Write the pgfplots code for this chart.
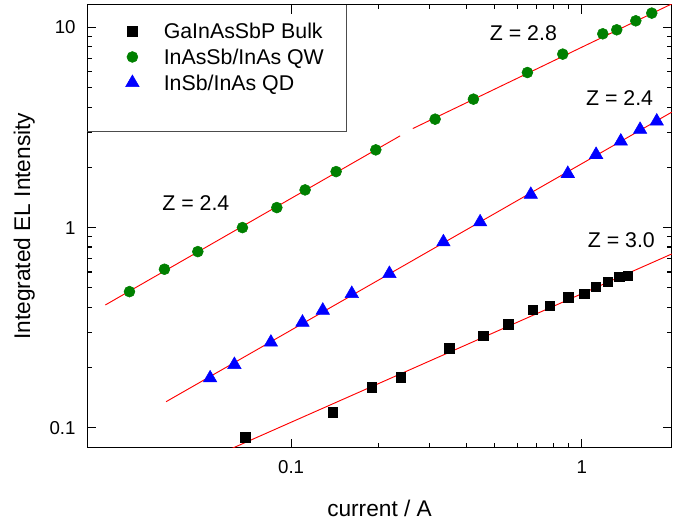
\documentclass[border=0pt]{standalone}
\usepackage{fontspec}
\setmainfont{Liberation Sans}
\usepackage{pgfplots}
\pgfplotsset{compat=1.18}
\definecolor{qwgreen}{RGB}{0,128,0}

\begin{document}
\begin{tikzpicture}
\path[use as bounding box] (-65.475pt,-54.975pt) rectangle (442.95pt,335.775pt);
\begin{axis}[
  at={(0,0)}, anchor=south west,
  scale only axis, width=438.3pt, height=332.25pt,
  xmode=log, ymode=log,
  xmin=0.0199, xmax=2.04, ymin=0.0794, ymax=13.0,
  xtick={0.1,1}, ytick={0.1,1,10},
  log ticks with fixed point,
  tick align=inside,
  major tick length=6.75pt, minor tick length=3.5pt,
  axis line style={line width=1pt},
  tick style={black, line width=0.9pt},
  tick label style={font=\fontsize{14}{16}\selectfont},
  /pgf/number format/assume math mode=true,
  xticklabel shift=6pt, yticklabel shift=5.3pt,
  xlabel={current / A},
  ylabel={Integrated EL Intensity},
  label style={font=\fontsize{17}{20}\selectfont},
  xlabel style={at={(axis description cs:0.5,-0.136)}, anchor=center},
  ylabel style={at={(axis description cs:-0.108,0.5)}, anchor=center},
  legend cell align=left,
  legend image code/.code={\draw[#1] plot coordinates {(0pt,0pt)};},
  legend style={draw=none, fill=none,
    at={(axis description cs:0,1)}, anchor=north west,
    inner xsep=28.6pt, inner ysep=11.4pt, row sep=2.7pt,
    font=\fontsize{16}{19}\selectfont,
    nodes={inner xsep=0pt, inner ysep=0pt, text height=14pt, text depth=2.6pt},
    /tikz/every odd column/.append style={column sep=18.5pt}},
]
% measured points
\addplot[only marks, mark=square*, mark size=3.5pt, black] coordinates {
  (0.0695,0.0895) (0.1391,0.1194) (0.1895,0.1592) (0.2389,0.1786)
  (0.3496,0.2495) (0.4587,0.2873) (0.5590,0.3289) (0.6784,0.3878)
  (0.778,0.4074) (0.8994,0.4487) (1.021,0.4662) (1.120,0.5070)
  (1.229,0.5355) (1.347,0.5689) (1.436,0.5754)};
\addlegendentry{GaInAsSbP Bulk}
\addplot[only marks, mark=*, mark size=4.1pt, qwgreen] coordinates {
  (0.02779,0.4786) (0.03666,0.6194) (0.04775,0.7586) (0.0680,1.0)
  (0.0893,1.259) (0.1117,1.543) (0.1428,1.905) (0.1956,2.446)
  (0.3129,3.483) (0.4238,4.385) (0.650,5.957) (0.860,7.362)
  (1.181,9.301) (1.319,9.739) (1.534,10.80) (1.741,11.80)};
\addlegendentry{InAsSb/InAs QW}
\addplot[only marks, mark=triangle*, mark size=5.8pt, blue] coordinates {
  (0.05264,0.1770) (0.0638,0.2065) (0.0852,0.2670) (0.1094,0.3360)
  (0.1285,0.3858) (0.1617,0.4675) (0.2178,0.5886) (0.3342,0.847)
  (0.4469,1.066) (0.6678,1.462) (0.8951,1.861) (1.120,2.316)
  (1.362,2.700) (1.587,3.090) (1.811,3.400)};
\addlegendentry{InSb/InAs QD}
% fits
\addplot[forget plot, no marks, red, line width=0.7pt] coordinates {(0.02297,0.4108) (0.2371,2.874)};
\addplot[forget plot, no marks, red, line width=0.7pt] coordinates {(0.2622,3.126) (2.04,13.12)};
\addplot[forget plot, no marks, red, line width=0.7pt] coordinates {(0.03715,0.1349) (2.04,3.776)};
\addplot[forget plot, no marks, red, line width=0.7pt] coordinates {(0.06,0.0767) (2.04,0.7386)};
% legend frame
\draw[black!70, line width=0.8pt] (rel axis cs:0,0.7133) -| (rel axis cs:0.4427,1);
% exponents
\node[font=\fontsize{16}{19}\selectfont] at (axis cs:0.04701,1.329) {Z = 2.4};
\node[font=\fontsize{16}{19}\selectfont] at (axis cs:0.6296,9.376) {Z = 2.8};
\node[font=\fontsize{16}{19}\selectfont] at (axis cs:1.349,4.436) {Z = 2.4};
\node[font=\fontsize{16}{19}\selectfont] at (axis cs:1.368,0.861) {Z = 3.0};
\end{axis}
\end{tikzpicture}
\end{document}
